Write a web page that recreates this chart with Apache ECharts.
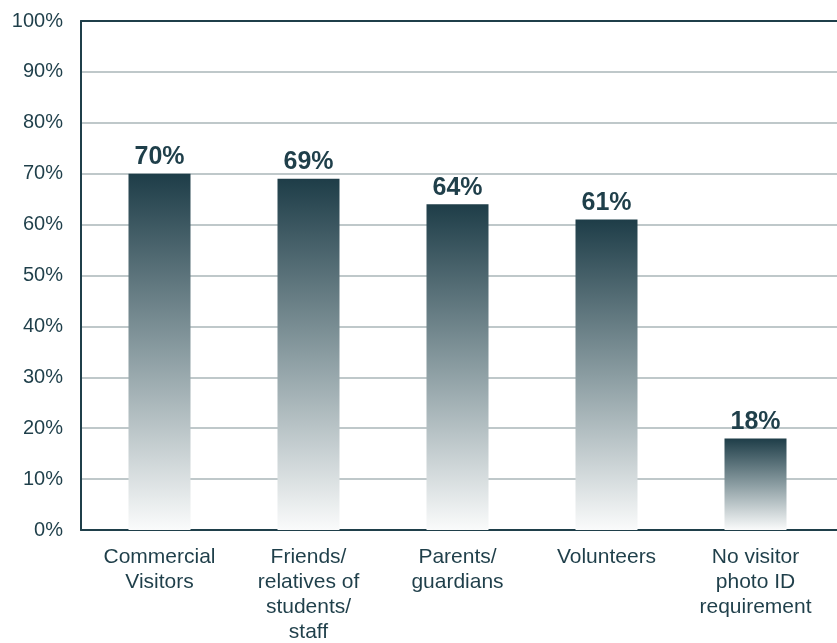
<!DOCTYPE html>
<html>
<head>
<meta charset="utf-8">
<script src="https://cdn.jsdelivr.net/npm/echarts@6/dist/echarts.min.js"></script>
<style>
  html, body { margin: 0; padding: 0; background: #ffffff; }
  #chart { width: 837px; height: 643px; }
</style>
</head>
<body>
<div id="chart"></div>
<script>
// Visitor groups and share of schools requiring photo ID
const categories = [
  'Commercial\nVisitors',
  'Friends/\nrelatives of\nstudents/\nstaff',
  'Parents/\nguardians',
  'Volunteers',
  'No visitor\nphoto ID\nrequirement'
];
const values = [70, 69, 64, 61, 18];
const yTicks = { min: 0, max: 100, step: 10 };

const ink = '#1f3f4a';
const gridGray = '#aab6b9';
const font = '"Liberation Sans", Arial, sans-serif';

const chart = echarts.init(document.getElementById('chart'), null, { renderer: 'canvas' });

chart.setOption({
  backgroundColor: '#ffffff',
  animation: false,
  grid: [
    // frame: axes, gridlines and tick labels
    { left: 81, right: -6, top: 21, bottom: 113, containLabel: false, outerBoundsMode: 'none' },
    // bars and category labels
    { left: 85, width: 745, top: 21, bottom: 113, containLabel: false, outerBoundsMode: 'none' }
  ],
  xAxis: [
    {
      gridIndex: 0, type: 'value', position: 'bottom', min: 0, max: 1,
      axisLine: { show: true, lineStyle: { color: ink, width: 2 } },
      axisTick: { show: false }, axisLabel: { show: false }, splitLine: { show: false }
    },
    {
      gridIndex: 0, type: 'value', position: 'top', min: 0, max: 1,
      axisLine: { show: true, lineStyle: { color: ink, width: 2 } },
      axisTick: { show: false }, axisLabel: { show: false }, splitLine: { show: false }
    },
    {
      gridIndex: 1, type: 'category', data: categories,
      axisLine: { show: false }, axisTick: { show: false },
      axisLabel: {
        color: ink, fontFamily: font, fontSize: 21, lineHeight: 25,
        margin: 15, interval: 0, align: 'center', hideOverlap: false
      }
    }
  ],
  yAxis: [
    {
      gridIndex: 0, type: 'value', min: yTicks.min, max: yTicks.max, interval: yTicks.step,
      axisLine: { show: true, lineStyle: { color: ink, width: 2 } },
      axisTick: { show: false },
      axisLabel: {
        color: ink, fontFamily: font, fontSize: 20, margin: 18,
        padding: [0, 0, 6, 0],
        formatter: '{value}%'
      },
      splitLine: { show: true, showMinLine: false, showMaxLine: false,
                   lineStyle: { color: gridGray, width: 1.5 } }
    },
    {
      gridIndex: 1, type: 'value', min: yTicks.min, max: yTicks.max,
      show: false, splitLine: { show: false }
    }
  ],
  series: [
    {
      type: 'bar',
      xAxisIndex: 2,
      yAxisIndex: 1,
      data: values,
      barWidth: 62,
      itemStyle: {
        color: new echarts.graphic.LinearGradient(0, 0, 0, 1, [
          { offset: 0, color: '#1e3d48' },
          { offset: 0.5, color: '#8a9ca1' },
          { offset: 1, color: '#fafbfb' }
        ])
      },
      label: {
        show: true, position: 'top', distance: 4,
        color: ink, fontFamily: font, fontSize: 25, fontWeight: 'bold',
        formatter: '{c}%'
      }
    }
  ]
});
</script>
</body>
</html>
